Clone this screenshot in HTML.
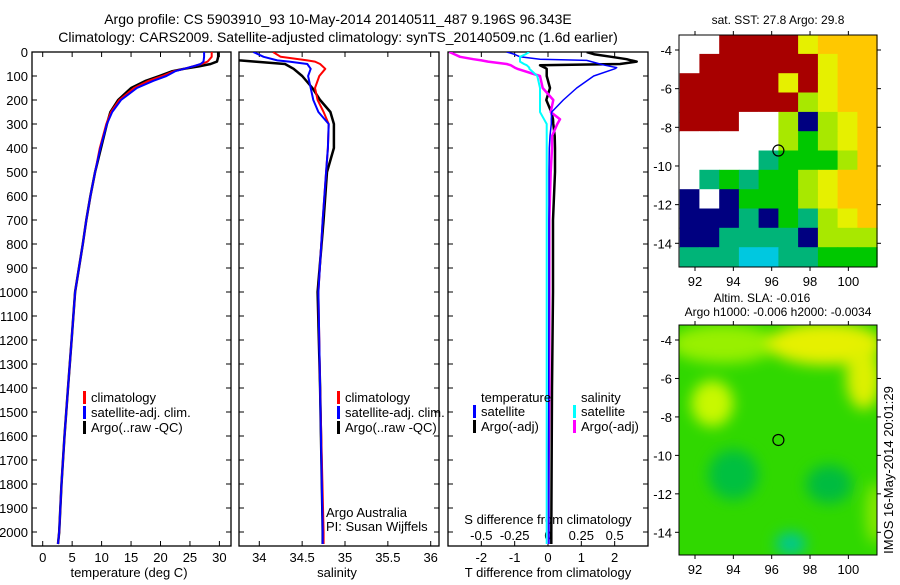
<!DOCTYPE html>
<html><head><meta charset="utf-8"><style>
body{margin:0;background:#fff;width:900px;height:580px;overflow:hidden}
svg text{font-family:"Liberation Sans",sans-serif;fill:#000}
</style></head><body>
<svg id="fig" width="900" height="580" viewBox="0 0 900 580" xmlns="http://www.w3.org/2000/svg">
<text x="338" y="24" font-size="14" text-anchor="middle">Argo profile: CS 5903910_93 10-May-2014 20140511_487 9.196S 96.343E</text>
<text x="338" y="42" font-size="14" text-anchor="middle">Climatology: CARS2009. Satellite-adjusted climatology: synTS_20140509.nc (1.6d earlier)</text>
<g id="g1"></g>
<g id="g2"></g>
<g id="g3"></g>
<g id="m1"></g>
<g id="m2"></g>
<text transform="translate(893,470) rotate(-90)" font-size="13" text-anchor="middle">IMOS 16-May-2014 20:01:29</text>
</svg>
<script>
// depth arrays
const tDepth=[0,20,40,50,60,70,80,100,120,150,200,250,300,400,500,600,700,800,1000,1200,1400,1600,1800,2000,2050];
const tArgo=[29.8,29.8,29.6,28.5,26.5,24,22,19.8,17.5,15,12.8,11.5,10.9,9.9,8.9,8.1,7.4,6.8,5.5,4.9,4.3,3.7,3.2,2.8,2.6];
const tClim=[28.7,28.7,28,27,25.5,24,22.3,20.3,18,15.5,13,11.6,10.8,9.7,8.9,8.1,7.4,6.8,5.5,4.9,4.3,3.7,3.2,2.8,2.6];
const tSat=[27.4,27.4,27.3,26.8,25.5,24,22.5,21,18.8,16,13.3,11.8,10.9,9.8,8.9,8.1,7.4,6.8,5.5,4.9,4.3,3.7,3.2,2.8,2.6];
const sDepth=[0,20,35,40,50,70,100,150,200,250,300,400,500,700,1000,1400,2000,2050];
const sArgo=[33.5,33.5,33.77,33.95,34.3,34.4,34.5,34.62,34.71,34.83,34.87,34.87,34.79,34.75,34.68,34.71,34.74,34.74];
const sClim=[34.16,34.25,34.56,34.65,34.71,34.77,34.7,34.65,34.68,34.75,34.81,34.8,34.78,34.74,34.69,34.71,34.75,34.75];
const sSat=[33.93,34.05,34.21,34.35,34.56,34.6,34.57,34.6,34.63,34.69,34.81,34.8,34.78,34.74,34.69,34.71,34.74,34.74];
const dDepth=[0,10,20,30,35,40,50,55,65,70,100,150,200,250,280,300,350,400,500,700,1000,1400,2000,2050];
const dTSat=[-1.24,-1.0,-0.84,-0.24,1.16,1.3,1.56,1.7,2.06,2.0,1.37,0.86,0.46,0.11,0.1,0.1,0.06,0.04,0.03,0.03,0.03,0.02,0.03,0.03];
const dTArgo=[1.16,1.4,1.9,2.36,2.5,2.66,2.16,-0.24,-0.1,-0.04,-0.04,0.06,-0.05,0.1,0.15,0.16,0.2,0.21,0.21,0.15,0.15,0.12,0.1,0.1];
const dSSat=[-0.14,-0.17,-0.21,-0.21,-0.21,-0.21,-0.18,-0.16,-0.14,-0.14,-0.08,-0.06,-0.06,-0.06,-0.03,-0.01,-0.01,-0.01,-0.01,-0.01,-0.01,-0.01,-0.01,-0.01];
const dSArgo=[-0.74,-0.7,-0.66,-0.56,-0.5,-0.45,-0.31,-0.28,-0.25,-0.23,-0.06,-0.04,0.04,0.02,0.09,0.07,0.03,0.03,0.02,0.01,0.01,0.01,0.0,0.0];
const depthTicks=[0,100,200,300,400,500,600,700,800,900,1000,1100,1200,1300,1400,1500,1600,1700,1800,1900,2000];
const tempTicks=[0,5,10,15,20,25,30];
const salTicks=[34,34.5,35,35.5,36];
const tdTicks=[-2,-1,0,1,2];
const sdTicks=[-0.5,-0.25,0,0.25,0.5];
const sdTickLabels=["-0.5","-0.25","0","0.25","0.5"];
// map 1 SST grid (rows lat -3.2 downward 1deg, cols lon 91.2 step 1.03)
const sstRows=["WWRRRRYOOO","WRRRRRRYOO","RRRRRYRYOO","RRRRRRLYOO","RRRWWLNLYO","WWWWWLGLYO","WWWWTGGGLO","WTGTGGLYOO","NWNGGGLYOO","NNNTNGTLYO","NNTTTTNLLL","TTTCCTTGGG"];
const sstColors={R:"#a80000",O:"#ffc800",Y:"#e6f000",L:"#a8e800",G:"#00c800",T:"#00b478",C:"#00c8e0",N:"#000080",W:"#ffffff"};
// map 2 SLA blobs: lon, lat, rx(deg), ry(deg), colour
const slaLon=[93.5,98.8,100.8,92.9,101.4,97,99,94];
const slaLat=[-4.2,-4.2,-6,-7.3,-13,-14.6,-11.5,-11];
const slaRx=[2.8,3,0.9,1.1,0.5,0.8,1.2,1.3];
const slaRy=[1,1.1,1.6,1.2,1.6,0.6,1,1.3];
const slaCol=["#98f000","#e6f000","#dcf000","#c8f800","#88e800","#00c890","#00bc40","#00c040"];
const argoLon=96.35, argoLat=-9.2;

const NS="http://www.w3.org/2000/svg";
function mk(p,tag,at){const e=document.createElementNS(NS,tag);for(const k in at)e.setAttribute(k,at[k]);p.appendChild(e);return e;}
const Y0=52,Y1=546;
const yD=d=>52+d*0.24;

function frame(g,x0,x1,name){
  const r=mk(g,'rect',{x:x0,y:Y0,width:x1-x0,height:Y1-Y0,fill:'none',stroke:'#000','stroke-width':1.3});
  
  
}
function ticksY(g,x0,x1,labels){
  depthTicks.forEach(d=>{const y=yD(d);
    mk(g,'line',{x1:x0,x2:x0+5,y1:y,y2:y,stroke:'#000'});
    mk(g,'line',{x1:x1,x2:x1-5,y1:y,y2:y,stroke:'#000'});
    if(labels){const t=mk(g,'text',{x:28,y:y+5,'font-size':13,'text-anchor':'end'});t.textContent=d;
      
      }
  });
}
function line(g,xs,ds,xf,col,w,name,clip){
  const pts=xs.map((v,i)=>xf(v).toFixed(1)+','+yD(ds[i]).toFixed(1)).join(' ');
  const p=mk(g,'polyline',{points:pts,fill:'none',stroke:col,'stroke-width':w,'stroke-linejoin':'round'});
  if(clip)p.setAttribute('clip-path','url(#'+clip+')');
  
  
}
function legend(g,x,y,items){
  items.forEach((it,i)=>{const yy=y+i*15;
    mk(g,'rect',{x:x,y:yy-11,width:3,height:13,fill:it[1]});
    const t=mk(g,'text',{x:x+8,y:yy,'font-size':13});t.textContent=it[0];
    
    });
}
const defs=mk(document.getElementById('fig'),'defs',{});
[['c1',32,231],['c2',239,439],['c3',448,648]].forEach(c=>{const cp=mk(defs,'clipPath',{id:c[0]});mk(cp,'rect',{x:c[1],y:Y0,width:c[2]-c[1],height:Y1-Y0});});
const bl=mk(defs,'filter',{id:'blur',x:'-50%',y:'-50%',width:'200%',height:'200%'});mk(bl,'feGaussianBlur',{stdDeviation:7});

// Panel 1
{const g=document.getElementById('g1');const xT=v=>42.7+v*5.89;
 frame(g,32,231,'temperature-frame');ticksY(g,32,231,true);
 tempTicks.forEach(v=>{const x=xT(v);mk(g,'line',{x1:x,x2:x,y1:Y1,y2:Y1-5,stroke:'#000'});mk(g,'line',{x1:x,x2:x,y1:Y0,y2:Y0+5,stroke:'#000'});
  const t=mk(g,'text',{x:x,y:562,'font-size':13,'text-anchor':'middle'});t.textContent=v;
  
  });
 const t=mk(g,'text',{x:129,y:577,'font-size':13,'text-anchor':'middle'});t.textContent='temperature (deg C)';
 
 
 line(g,tArgo,tDepth,xT,'#000',2.5,'argo-temperature-line','c1');
 line(g,tClim,tDepth,xT,'#f00',2,'climatology-temperature-line','c1');
 line(g,tSat,tDepth,xT,'#00f',2,'satellite-temperature-line','c1');
 legend(g,83,402,[['climatology','#f00'],['satellite-adj. clim.','#00f'],['Argo(..raw -QC)','#000']]);}
// Panel 2
{const g=document.getElementById('g2');const xS=v=>259.3+(v-34)*85.7;
 frame(g,239,439,'salinity-frame');ticksY(g,239,439,false);
 salTicks.forEach(v=>{const x=xS(v);mk(g,'line',{x1:x,x2:x,y1:Y1,y2:Y1-5,stroke:'#000'});mk(g,'line',{x1:x,x2:x,y1:Y0,y2:Y0+5,stroke:'#000'});
  const t=mk(g,'text',{x:x,y:562,'font-size':13,'text-anchor':'middle'});t.textContent=v;
  
  });
 const t=mk(g,'text',{x:337,y:577,'font-size':13,'text-anchor':'middle'});t.textContent='salinity';
 
 
 line(g,sArgo,sDepth,xS,'#000',2.5,'argo-salinity-line','c2');
 line(g,sClim,sDepth,xS,'#f00',2,'climatology-salinity-line','c2');
 line(g,sSat,sDepth,xS,'#00f',2,'satellite-salinity-line','c2');
 legend(g,337,402,[['climatology','#f00'],['satellite-adj. clim.','#00f'],['Argo(..raw -QC)','#000']]);
 const a=mk(g,'text',{x:326,y:517,'font-size':13});a.textContent='Argo Australia';
 
 
 const b=mk(g,'text',{x:326,y:531,'font-size':13});b.textContent='PI: Susan Wijffels';
 
 }
// Panel 3
{const g=document.getElementById('g3');const xT=v=>548+v*33.33;const xSd=v=>548+v*133.3;
 frame(g,448,648,'difference-frame');ticksY(g,448,648,false);
 tdTicks.forEach(v=>{const x=xT(v);mk(g,'line',{x1:x,x2:x,y1:Y1,y2:Y1-5,stroke:'#000'});mk(g,'line',{x1:x,x2:x,y1:Y0,y2:Y0+5,stroke:'#000'});
  const t=mk(g,'text',{x:x,y:562,'font-size':13,'text-anchor':'middle'});t.textContent=v;
  
  });
 sdTicks.forEach((v,i)=>{const t=mk(g,'text',{x:xSd(v),y:540,'font-size':13,'text-anchor':'middle'});t.textContent=sdTickLabels[i];
  
  });
 const a=mk(g,'text',{x:548,y:524,'font-size':13,'text-anchor':'middle'});a.textContent='S difference from climatology';
 
 
 const b=mk(g,'text',{x:548,y:577,'font-size':13,'text-anchor':'middle'});b.textContent='T difference from climatology';
 
 
 line(g,dTArgo,dDepth,xT,'#000',2.5,'argo-t-diff-line','c3');
 line(g,dSArgo,dDepth,xSd,'#f0f',2.5,'argo-s-diff-line','c3');
 line(g,dTSat,dDepth,xT,'#00f',1.5,'satellite-t-diff-line','c3');
 line(g,dSSat,dDepth,xSd,'#0ff',2,'satellite-s-diff-line','c3');
 const h1=mk(g,'text',{x:481,y:402,'font-size':13});h1.textContent='temperature';
 
 
 const h2=mk(g,'text',{x:581,y:402,'font-size':13});h2.textContent='salinity';
 
 
 legend(g,473,416,[['satellite','#00f'],['Argo(-adj)','#000']]);
 legend(g,573,416,[['satellite','#0ff'],['Argo(-adj)','#f0f']]);}

function mapAxes(g,x0,y0,x1,y1,lonF,latF){
  [92,94,96,98,100].forEach(v=>{const x=lonF(v);mk(g,'line',{x1:x,x2:x,y1:y1,y2:y1+4,stroke:'#000'});mk(g,'line',{x1:x,x2:x,y1:y0,y2:y0-4,stroke:'#000'});
   const t=mk(g,'text',{x:x,y:y1+19,'font-size':13,'text-anchor':'middle'});t.textContent=v;
   
   });
  [-4,-6,-8,-10,-12,-14].forEach(v=>{const y=latF(v);mk(g,'line',{x1:x0-4,x2:x0,y1:y,y2:y,stroke:'#000'});mk(g,'line',{x1:x1,x2:x1+4,y1:y,y2:y,stroke:'#000'});
   const t=mk(g,'text',{x:x0-7,y:y+5,'font-size':13,'text-anchor':'end'});t.textContent=v;
   
   });
  mk(g,'rect',{x:x0,y:y0,width:x1-x0,height:y1-y0,fill:'none',stroke:'#000'});
  const c=mk(g,'circle',{cx:lonF(argoLon),cy:latF(argoLat),r:5.5,fill:'none',stroke:'#000','stroke-width':1.2});
  
  
}
// Map 1
{const g=document.getElementById('m1');const lonF=v=>695+(v-92)*19.17;const latF=v=>50+(-4-v)*19.33;
 const x0=679,x1=877,y0=35,y1=267;
 sstRows.forEach((row,r)=>{[...row].forEach((ch,c)=>{const lo=91.2+c*1.03,la=-3.2-r;
   const x=lonF(lo),y=latF(la);
   const cell=mk(g,'rect',{x:x.toFixed(1),y:y.toFixed(1),width:(1.03*19.17+0.6).toFixed(1),height:(19.33+0.6).toFixed(1),fill:sstColors[ch]});
   
   });});
 mapAxes(g,x0,y0,x1,y1,lonF,latF);
 const t=mk(g,'text',{x:778,y:24,'font-size':12,'text-anchor':'middle'});t.textContent='sat. SST: 27.8 Argo: 29.8';
 
 }
// Map 2
{const g=document.getElementById('m2');const lonF=v=>695+(v-92)*19.17;const latF=v=>340+(-4-v)*19.23;
 const x0=679,x1=877,y0=325,y1=555;
 const cp=mk(defs,'clipPath',{id:'cm2'});mk(cp,'rect',{x:x0,y:y0,width:x1-x0,height:y1-y0});
 const gg=mk(g,'g',{'clip-path':'url(#cm2)'});
 mk(gg,'rect',{x:x0,y:y0,width:x1-x0,height:y1-y0,fill:'#30d800'});
 const gb=mk(gg,'g',{filter:'url(#blur)'});
 slaLon.forEach((lo,i)=>{const e=mk(gb,'ellipse',{cx:lonF(lo),cy:latF(slaLat[i]),rx:slaRx[i]*19.17,ry:slaRy[i]*19.23,fill:slaCol[i]});
   
   });
 mapAxes(g,x0,y0,x1,y1,lonF,latF);
 const t1=mk(g,'text',{x:762,y:302,'font-size':12,'text-anchor':'middle'});t1.textContent='Altim. SLA: -0.016';
 
 
 const t2=mk(g,'text',{x:778,y:316,'font-size':12,'text-anchor':'middle'});t2.textContent='Argo h1000: -0.006 h2000: -0.0034';
 
 }
</script>
</body></html>
